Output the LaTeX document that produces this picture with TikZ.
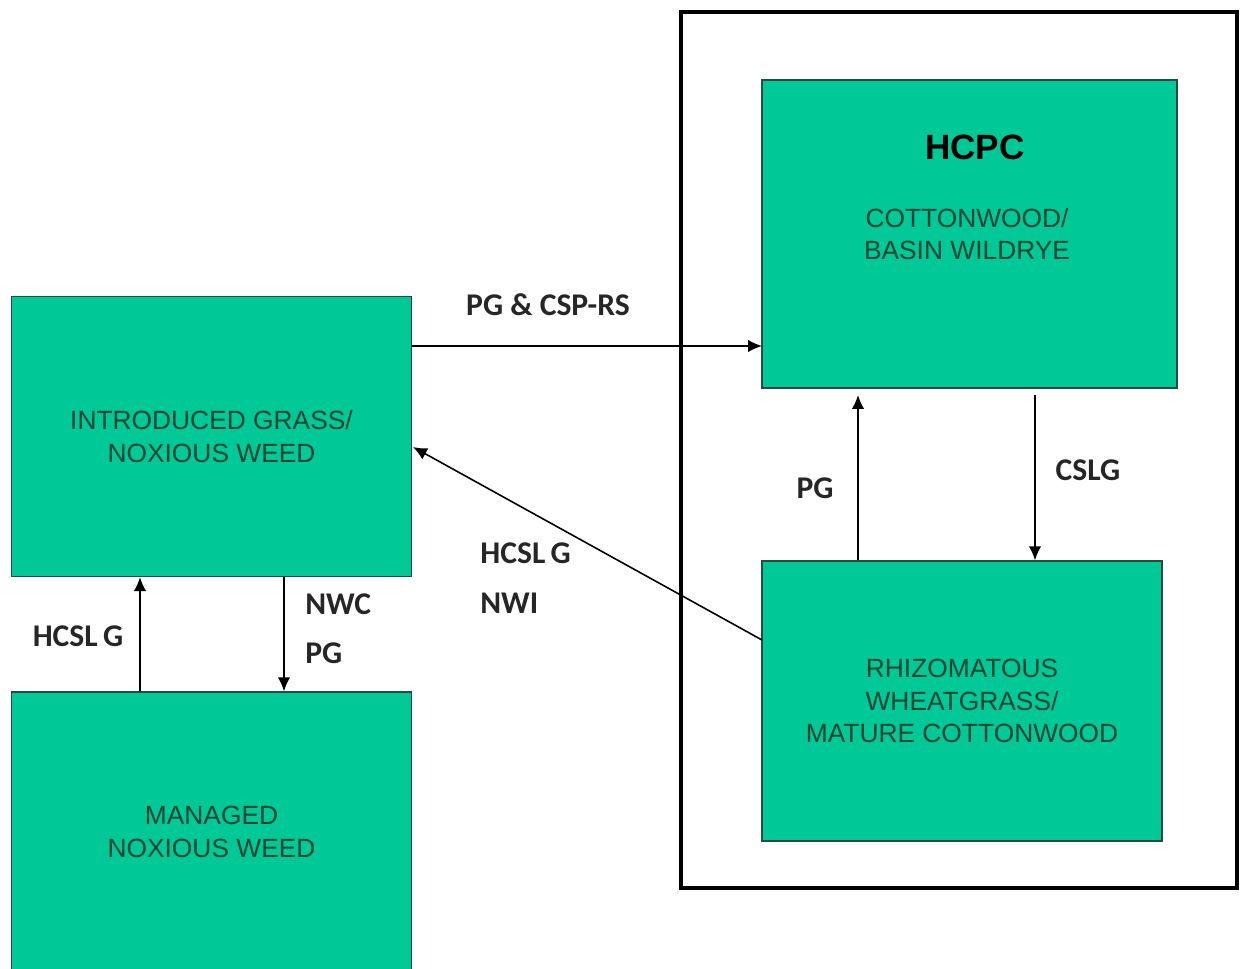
\documentclass[tikz,border=0pt]{standalone}
\usepackage{fontspec}
\setmainfont{Liberation Sans}
\newfontfamily\lblfont{Carlito}
\usetikzlibrary{arrows.meta}
\definecolor{stategreen}{RGB}{0,200,150}
\definecolor{stateline}{RGB}{40,75,62}
\definecolor{statetext}{RGB}{18,68,52}

\begin{document}
\begin{tikzpicture}[x=0.02cm, y=-0.02cm,
  state/.style = {draw=stateline, fill=stategreen, line width=0.8pt, inner sep=0pt,
    minimum width=8cm, minimum height=5.6cm,
    align=center, text=statetext, font=\fontsize{15}{18.4}\selectfont},
  lbl/.style = {font=\lblfont\bfseries\fontsize{18}{20}\selectfont, text=black!85, inner sep=0pt},
  flow/.style = {draw, line width=0.9pt, -{Latex[length=2.8mm,width=2.5mm]}}]
  \useasboundingbox (0,0) rectangle (1240,969);
  \draw[line width=2.3pt] (681,12) rectangle (1237,888);
  \node[state] (intro) at (211.5,436.5) {INTRODUCED GRASS/\\NOXIOUS WEED};
  \node[state] (managed) at (211.5,832) {MANAGED\\NOXIOUS WEED};
  \node[state, minimum width=8.3cm, minimum height=6.16cm] (hcpc) at (969.5,234) {};
  \node[text=black, font=\bfseries\fontsize{20}{22}\selectfont] (hcpctitle) at (975,147) {HCPC};
  \node[align=center, text=statetext, font=\fontsize{15}{18.4}\selectfont] (hcpctext) at (967,234) {COTTONWOOD/\\BASIN WILDRYE};
  \node[state] (rhizo) at (962,701) {RHIZOMATOUS\\WHEATGRASS/\\MATURE COTTONWOOD};
  \coordinate (pgin) at (762,346);
  \coordinate (cslgtop) at (1035,395);
  \coordinate (pgtop) at (858,395);
  \coordinate (hcslgout) at (762,640);
  \coordinate (hcslgin) at (413,447);
  \coordinate (nwcx) at (284,0);
  \coordinate (hcslgx) at (140,0);
  \draw[flow] (intro.east |- pgin) -- (pgin);
  \draw[flow] (cslgtop) -- (cslgtop |- rhizo.north);
  \draw[flow] (pgtop |- rhizo.north) -- (pgtop);
  \draw[flow] (hcslgout) -- (hcslgin);
  \draw[flow] (intro.south -| nwcx) -- (managed.north -| nwcx);
  \draw[flow] (managed.north -| hcslgx) -- (intro.south -| hcslgx);
  \node[lbl] (pgcsp) at (548,305) {PG \& CSP-RS};
  \node[lbl] (cslg) at (1088,470) {CSLG};
  \node[lbl] (pgup) at (815,488) {PG};
  \node[lbl, anchor=west] (hcslgmid) at (480,553) {HCSL\,G};
  \node[lbl, anchor=west] (nwi) at (480,603) {NWI};
  \node[lbl, anchor=west] (nwc) at (305,604) {NWC};
  \node[lbl, anchor=west] (pgdown) at (305,653) {PG};
  \node[lbl] (hcslgleft) at (78,636) {HCSL\,G};
\end{tikzpicture}
\end{document}
